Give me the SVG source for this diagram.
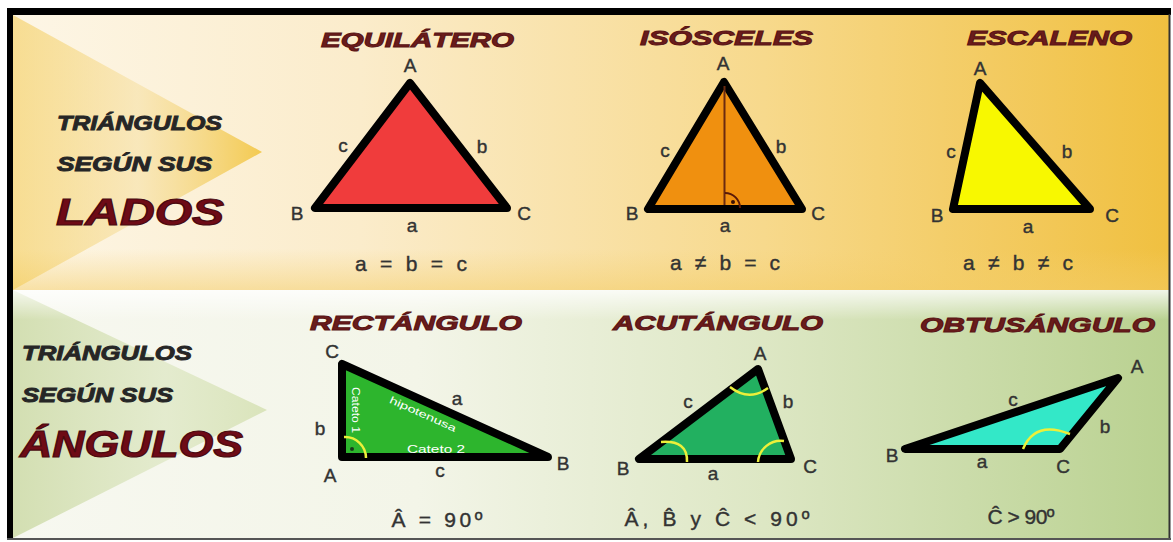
<svg xmlns="http://www.w3.org/2000/svg" width="1173" height="542" viewBox="0 0 1173 542">
<defs>
<linearGradient id="gTop" x1="0" y1="0" x2="1" y2="0">
<stop offset="0" stop-color="#fdf6e6"/>
<stop offset="0.3" stop-color="#fbeccb"/>
<stop offset="0.65" stop-color="#f7d98c"/>
<stop offset="1" stop-color="#f0c040"/>
</linearGradient>
<linearGradient id="gTopV" x1="0" y1="0" x2="0" y2="1">
<stop offset="0" stop-color="#ffffff" stop-opacity="0"/>
<stop offset="0.85" stop-color="#f5d070" stop-opacity="0"/>
<stop offset="1" stop-color="#f3cc66" stop-opacity="0.5"/>
</linearGradient>
<linearGradient id="gBot" x1="0" y1="0" x2="1" y2="0">
<stop offset="0" stop-color="#f7f8f0"/>
<stop offset="0.35" stop-color="#f3f5e8"/>
<stop offset="0.65" stop-color="#dde7c4"/>
<stop offset="1" stop-color="#b9d190"/>
</linearGradient>
<linearGradient id="gBotV" x1="0" y1="0" x2="0" y2="1">
<stop offset="0" stop-color="#ffffff" stop-opacity="0.8"/>
<stop offset="0.12" stop-color="#ffffff" stop-opacity="0"/>
<stop offset="1" stop-color="#ffffff" stop-opacity="0"/>
</linearGradient>
<linearGradient id="gTriT" x1="0" y1="0" x2="1" y2="0">
<stop offset="0" stop-color="#f3c94e" stop-opacity="0.55"/>
<stop offset="0.5" stop-color="#f6e0a4" stop-opacity="0.6"/>
<stop offset="1" stop-color="#f3c84a" stop-opacity="0.95"/>
</linearGradient>
<linearGradient id="gTriB" x1="0" y1="0" x2="1" y2="0">
<stop offset="0" stop-color="#cfdcab" stop-opacity="0.9"/>
<stop offset="0.6" stop-color="#dfe8c6" stop-opacity="0.8"/>
<stop offset="1" stop-color="#d7e2b6" stop-opacity="0.9"/>
</linearGradient>
<style>
.side{font-family:"Liberation Sans",Arial,sans-serif;font-weight:bold;font-style:italic;fill:#262626;stroke:#262626;stroke-width:0.9;font-size:20px}
.big{font-family:"Liberation Sans",Arial,sans-serif;font-weight:bold;font-style:italic;fill:#6e0b16;stroke:#4a0a10;stroke-width:1.2;font-size:37px}
.title{font-family:"Liberation Sans",Arial,sans-serif;font-weight:bold;font-style:italic;fill:#6a1c1c;stroke:#5a1515;stroke-width:1;font-size:21px}
.lbl{font-family:"Liberation Sans",Arial,sans-serif;fill:#333333;stroke:#333333;stroke-width:0.4;font-size:19px;text-anchor:middle}
.frm{font-family:"Liberation Sans",Arial,sans-serif;fill:#333333;stroke:#333333;stroke-width:0.4;font-size:21px;text-anchor:middle}
.tri{stroke:#000000;stroke-width:8;stroke-linejoin:round}
.wt{font-family:"Liberation Sans",Arial,sans-serif;fill:#ffffff;font-size:10px;text-anchor:middle}
.yarc{fill:none;stroke:#ecf03a;stroke-width:2.5}
</style>
</defs>

<g id="background">
<rect x="0" y="0" width="1173" height="542" fill="#ffffff"/>
<rect x="13" y="15" width="1156" height="275" fill="url(#gTop)"/>
<rect x="13" y="15" width="1156" height="275" fill="url(#gTopV)"/>
<polygon points="13,15 262,152 13,290" fill="url(#gTriT)"/>
<rect x="13" y="290" width="1156" height="248" fill="url(#gBot)"/>
<polygon points="13,290 267,410 13,538" fill="url(#gTriB)"/>
<rect x="13" y="290" width="1156" height="248" fill="url(#gBotV)"/>
<rect x="7" y="8" width="1164" height="7" fill="#000000"/>
<rect x="7" y="8" width="6" height="532" fill="#000000"/>
<line x1="1169.5" y1="14" x2="1169.5" y2="539" stroke="#333333" stroke-width="2"/>
<line x1="7" y1="539" x2="1171" y2="539" stroke="#555555" stroke-width="2"/>
</g>

<g id="side-lados">
<text class="side" x="57" y="130" textLength="165" lengthAdjust="spacingAndGlyphs">TRIÁNGULOS</text>
<text class="side" x="57" y="171" textLength="155" lengthAdjust="spacingAndGlyphs">SEGÚN  SUS</text>
<text class="big" x="56" y="225" textLength="168" lengthAdjust="spacingAndGlyphs">LADOS</text>
</g>

<g id="side-angulos">
<text class="side" x="22" y="360" textLength="170" lengthAdjust="spacingAndGlyphs">TRIÁNGULOS</text>
<text class="side" x="22" y="402" textLength="151" lengthAdjust="spacingAndGlyphs">SEGÚN  SUS</text>
<text class="big" x="20" y="457" textLength="223" lengthAdjust="spacingAndGlyphs">ÁNGULOS</text>
</g>

<g id="equilatero">
<text class="title" x="321" y="47" textLength="193" lengthAdjust="spacingAndGlyphs">EQUILÁTERO</text>
<polygon class="tri" points="410,83 315,208 507,208" fill="#f03c3c"/>
<text class="lbl" x="410" y="72">A</text>
<text class="lbl" x="297" y="220">B</text>
<text class="lbl" x="524" y="220">C</text>
<text class="lbl" x="412" y="232">a</text>
<text class="lbl" x="343" y="152">c</text>
<text class="lbl" x="482" y="153">b</text>
<text class="frm" x="411" y="271" textLength="112" lengthAdjust="spacing">a = b = c</text>
</g>

<g id="isosceles">
<text class="title" x="640" y="45" textLength="173" lengthAdjust="spacingAndGlyphs">ISÓSCELES</text>
<polygon class="tri" points="724,82 648,209 802,209" fill="#f0900f"/>
<line x1="724.5" y1="86" x2="724.5" y2="205" stroke="#6b2a10" stroke-width="2"/>
<path d="M725,193 A15,15 0 0 1 740,208" fill="none" stroke="#5a1a08" stroke-width="2"/>
<circle cx="733" cy="202" r="2" fill="#3a1005"/>
<text class="lbl" x="723" y="70">A</text>
<text class="lbl" x="632" y="220">B</text>
<text class="lbl" x="818" y="220">C</text>
<text class="lbl" x="725" y="232">a</text>
<text class="lbl" x="665" y="157">c</text>
<text class="lbl" x="781" y="153">b</text>
<text class="frm" x="725" y="270" textLength="110" lengthAdjust="spacing">a ≠ b = c</text>
</g>

<g id="escaleno">
<text class="title" x="967" y="45" textLength="165" lengthAdjust="spacingAndGlyphs">ESCALENO</text>
<polygon class="tri" points="980,83 953,209 1090,209" fill="#f8f800"/>
<text class="lbl" x="980" y="75">A</text>
<text class="lbl" x="937" y="222">B</text>
<text class="lbl" x="1112" y="222">C</text>
<text class="lbl" x="1028" y="233">a</text>
<text class="lbl" x="951" y="158">c</text>
<text class="lbl" x="1067" y="158">b</text>
<text class="frm" x="1018" y="270" textLength="110" lengthAdjust="spacing">a ≠ b ≠ c</text>
</g>

<g id="rectangulo">
<text class="title" x="310" y="330" textLength="212" lengthAdjust="spacingAndGlyphs">RECTÁNGULO</text>
<polygon class="tri" points="342,364 342,457 548,457" fill="#2db52d"/>
<text class="wt" transform="translate(355,410) rotate(90)" y="3.5" textLength="46" lengthAdjust="spacingAndGlyphs">Cateto 1</text>
<text class="wt" transform="translate(423,414) rotate(24.3)" y="3.5" textLength="72" lengthAdjust="spacingAndGlyphs">hipotenusa</text>
<text class="wt" x="436" y="453" font-size="11" textLength="58" lengthAdjust="spacingAndGlyphs">Cateto 2</text>
<path class="yarc" d="M344,437 A21,21 0 0 1 366,458"/>
<circle cx="352" cy="449" r="2" fill="#1a3a1a"/>
<text class="lbl" x="332" y="358">C</text>
<text class="lbl" x="320" y="435">b</text>
<text class="lbl" x="457" y="405">a</text>
<text class="lbl" x="330" y="482">A</text>
<text class="lbl" x="440" y="477">c</text>
<text class="lbl" x="563" y="470">B</text>
<text class="frm" x="437" y="527" textLength="91" lengthAdjust="spacing">Â = 90º</text>
</g>

<g id="acutangulo">
<text class="title" x="613" y="330" textLength="210" lengthAdjust="spacingAndGlyphs">ACUTÁNGULO</text>
<polygon class="tri" points="758,369 639,459 791,459" fill="#22b060"/>
<path class="yarc" d="M730,387 Q749,402 768,388"/>
<path class="yarc" d="M661,442 Q688,440 687,462"/>
<path class="yarc" d="M758,462 A23,23 0 0 1 784,441"/>
<text class="lbl" x="760" y="360">A</text>
<text class="lbl" x="688" y="408">c</text>
<text class="lbl" x="788" y="408">b</text>
<text class="lbl" x="623" y="475">B</text>
<text class="lbl" x="810" y="473">C</text>
<text class="lbl" x="713" y="480">a</text>
<text class="frm" x="717" y="526" textLength="185" lengthAdjust="spacing">Â, B̂ y Ĉ &lt; 90º</text>
</g>

<g id="obtusangulo">
<text class="title" x="920" y="332" textLength="235" lengthAdjust="spacingAndGlyphs">OBTUSÁNGULO</text>
<polygon class="tri" points="1118,378 905,449 1060,449" fill="#33e8c8"/>
<path class="yarc" d="M1023,449 Q1035,420 1070,434"/>
<text class="lbl" x="1137" y="373">A</text>
<text class="lbl" x="1013" y="406">c</text>
<text class="lbl" x="1105" y="433">b</text>
<text class="lbl" x="892" y="462">B</text>
<text class="lbl" x="982" y="468">a</text>
<text class="lbl" x="1063" y="473">C</text>
<text class="frm" x="1021" y="524" textLength="67" lengthAdjust="spacing">Ĉ &gt; 90º</text>
</g>
</svg>
